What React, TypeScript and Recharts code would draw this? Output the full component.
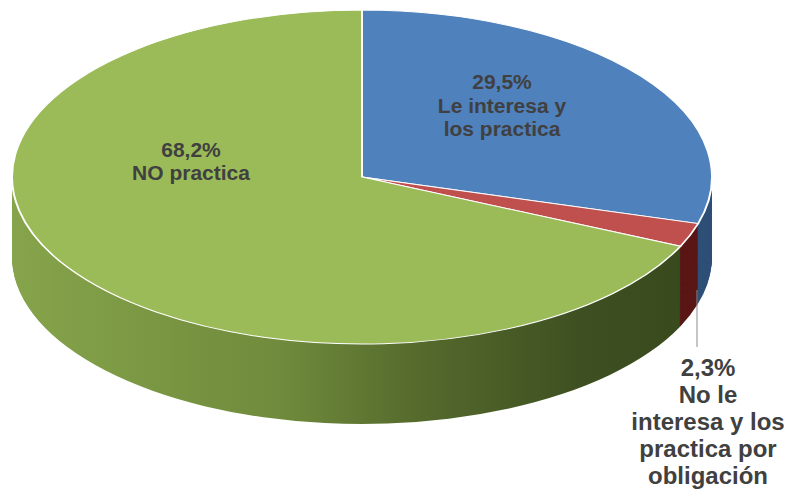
import { PieChart, Pie, Cell } from 'recharts';

const categories = ['Le interesa y los practica', 'No le interesa y los practica por obligación', 'NO practica'];
const shares = [29.5, 2.3, 68.2];
const shareLabels = ['29,5%', '2,3%', '68,2%'];
const labelLines = [['Le interesa y', 'los practica'], ['No le', 'interesa y los', 'practica por', 'obligación'], ['NO practica']];

const topColors = ['#4f81bd', '#c0504d', '#9bbb59'];
const sideColors = ['#2f5078', '#5a1716', 'url(#greenSide)'];

// fake 3D: a round pie squashed vertically, side built from stacked copies
const W = 794;
const R = 350;
const SQUASH = 167 / 350;
const CX = 362;
const CY = 177 / SQUASH;
const DEPTH = 80 / SQUASH;
const H = 493 / SQUASH;
const LAYERS = 70;

// label offsets from the pie centre, in on-screen pixels
const LABEL_POS = [
  { dx: 140, dy: -88, size: 21, lh: 23.5, leader: null as null | number[] },
  { dx: 346, dy: 199, size: 24, lh: 27, leader: [335, 113, 170] },
  { dx: -171, dy: -20, size: 21, lh: 23, leader: null as null | number[] },
];

const data = categories.map((name, i) => ({ name, value: shares[i] }));

const renderLabel = (props: any) => {
  const i = props.index;
  const o = LABEL_POS[i];
  const lines = [shareLabels[i], ...labelLines[i]];
  return (
    <g transform={`translate(${CX} ${CY}) scale(1 ${1 / SQUASH})`}>
      {o.leader && (
        <line x1={o.leader[0]} y1={o.leader[1]} x2={o.leader[0]} y2={o.leader[2]} stroke="#8c8c8c" strokeWidth={1} />
      )}
      <text
        x={o.dx}
        y={o.dy}
        textAnchor="middle"
        fontSize={o.size}
        fontWeight="bold"
        fill="#404040"
        fontFamily="'Liberation Sans', Arial, sans-serif"
      >
        {lines.map((t, k) => (
          <tspan key={k} x={o.dx} dy={k === 0 ? 0 : o.lh}>
            {t}
          </tspan>
        ))}
      </text>
    </g>
  );
};

export default function App() {
  const layers = Array.from({ length: LAYERS }, (_, i) => CY + DEPTH * (1 - i / LAYERS));
  return (
    <div style={{ position: 'absolute', left: 0, top: 0, width: W, height: 493, overflow: 'hidden', background: '#fff' }}>
      <div style={{ transform: `scaleY(${SQUASH})`, transformOrigin: '0 0' }}>
        <PieChart width={W} height={H} margin={{ top: 0, right: 0, bottom: 0, left: 0 }}>
          <defs>
            <linearGradient id="greenSide" x1="0" y1="0" x2="1" y2="0">
              <stop offset="0" stopColor="#86a44b" />
              <stop offset="0.4" stopColor="#708b3c" />
              <stop offset="0.6" stopColor="#566b2d" />
              <stop offset="0.85" stopColor="#3e5021" />
              <stop offset="1" stopColor="#394a1d" />
            </linearGradient>
          </defs>
          {layers.map((cy, li) => (
            <Pie
              key={li}
              data={data}
              dataKey="value"
              cx={CX}
              cy={cy}
              outerRadius={R}
              startAngle={90}
              endAngle={-270}
              stroke="none"
              isAnimationActive={false}
              label={false}
              labelLine={false}
            >
              {data.map((d, i) => (
                <Cell key={d.name} fill={sideColors[i]} />
              ))}
            </Pie>
          ))}
          <Pie
            data={data}
            dataKey="value"
            cx={CX}
            cy={CY}
            outerRadius={R}
            startAngle={90}
            endAngle={-270}
            stroke="#ffffff"
            strokeWidth={2}
            isAnimationActive={false}
            label={renderLabel}
            labelLine={false}
          >
            {data.map((d, i) => (
              <Cell key={d.name} fill={topColors[i]} />
            ))}
          </Pie>
        </PieChart>
      </div>
    </div>
  );
}
